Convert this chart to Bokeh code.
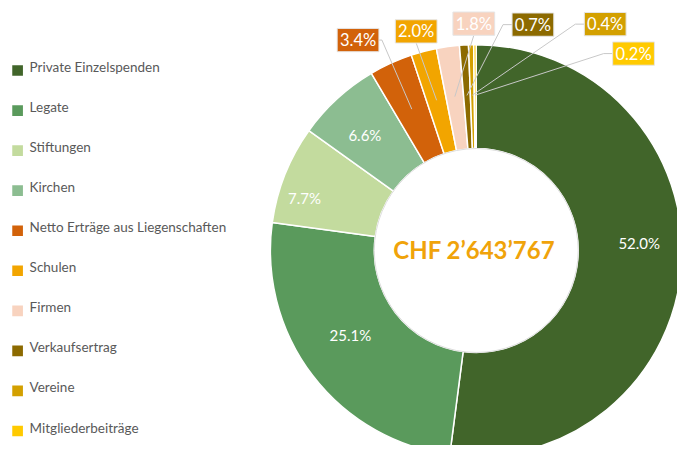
import math
from bokeh.plotting import figure
from bokeh.models import Range1d, ColumnDataSource
from bokeh.core.properties import value
from bokeh.embed import file_html
from bokeh.resources import INLINE

# ---- data ----
categories = ["Private Einzelspenden", "Legate", "Stiftungen", "Kirchen",
              "Netto Erträge aus Liegenschaften", "Schulen", "Firmen",
              "Verkaufsertrag", "Vereine", "Mitgliederbeiträge"]
shares = [52.0, 25.1, 7.7, 6.6, 3.4, 2.0, 1.8, 0.7, 0.4, 0.2]
total_label = "CHF 2’643’767"

# ---- style / layout ----
colors = ["#41652A", "#5A9A5C", "#C3DB9E", "#8CBD91", "#D2620A",
          "#F2A500", "#F8D3BF", "#8C6A00", "#D3A000", "#FFCA00"]
FONT = "Lato"
W, H = 677, 445
SX, SY = W / 693, H / 461       # fit the 693x461 design into the figure
S = (SX + SY) / 2


def X(xr):
    return xr * SX


def Y(yr):
    return H - yr * SY


CX, CY = X(487), Y(259)        # donut centre
R_OUT, R_IN = 212 * S, 105 * S

# inside-label placement: (radius, angular nudge in degrees, clockwise)
inside_layout = {0: (168, -6.3), 1: (156, 3.6), 2: (185, -4.7), 3: (165, -1.5)}
# outside-label layout: box centre (design px from top-left) and leader anchor side
outside_layout = {
    4: (366, 41, "right"),
    5: (425.5, 32, "bottom"),
    6: (484.5, 24, "bottom"),
    7: (545, 25, "left"),
    8: (619, 24.5, "left"),
    9: (648, 55, "left"),
}
BOX_W, BOX_H = 43 * S, 24 * S

p = figure(width=W, height=H, output_backend="svg", toolbar_location=None,
           x_range=Range1d(0, W), y_range=Range1d(0, H), min_border=0)
p.axis.visible = False
p.grid.visible = False
p.outline_line_color = None
p.background_fill_color = "white"

total = sum(shares)
starts, ends, mids = [], [], []
cum = 0.0
for s in shares:
    a0 = math.pi / 2 - cum / total * 2 * math.pi
    cum += s
    a1 = math.pi / 2 - cum / total * 2 * math.pi
    starts.append(a0)
    ends.append(a1)
    mids.append((a0 + a1) / 2)

src = ColumnDataSource(dict(start=starts, end=ends, color=colors))
p.annular_wedge(x=CX, y=CY, inner_radius=R_IN, outer_radius=R_OUT,
                start_angle="start", end_angle="end", direction="clock",
                fill_color="color", line_color="white", line_width=1.5, source=src)
p.circle(x=CX, y=CY, radius=R_IN, fill_color=None, line_color="#DDDDDD", line_width=1)

# inside labels
in_x, in_y, in_t = [], [], []
for i, (r, nudge) in inside_layout.items():
    a = mids[i] - math.radians(nudge)
    in_x.append(CX + r * S * math.cos(a))
    in_y.append(CY + r * S * math.sin(a))
    in_t.append(f"{shares[i]:.1f}%")
p.text(x=in_x, y=in_y, text=in_t, text_color="white", text_font=value(FONT),
       text_font_size="15px", text_align="center", text_baseline="middle")

# outside labels with leader lines
for i, (bx, by, side) in outside_layout.items():
    cx, cy = X(bx), Y(by)
    ex = CX + 160 * S * math.cos(mids[i])
    ey = CY + 160 * S * math.sin(mids[i])
    if side == "right":
        xs = [cx + BOX_W / 2, cx + BOX_W / 2 + 3, ex]
        ys = [cy, cy, ey]
    elif side == "left":
        xs = [cx - BOX_W / 2, cx - BOX_W / 2 - 9, ex]
        ys = [cy, cy, ey]
    else:
        xs = [cx, ex]
        ys = [cy - BOX_H / 2, ey]
    p.line(xs, ys, line_color="#C8C8C8", line_width=1)
    p.rect(x=cx, y=cy, width=BOX_W, height=BOX_H, fill_color=colors[i],
           line_color="#E6E6E6", line_width=1)
    p.text(x=[cx], y=[cy], text=[f"{shares[i]:.1f}%"], text_color="white",
           text_font=value(FONT), text_font_size="16.5px",
           text_align="center", text_baseline="middle")

# centre total
p.text(x=[CX - 2], y=[CY + 1], text=[total_label], text_color="#F0A30A",
       text_font=value(FONT), text_font_size="24px", text_font_style="bold",
       text_align="center", text_baseline="middle")

# legend
LEG_X, LEG_Y0, LEG_DY = 17.5, 72.5, 41.5
for i, (c, col) in enumerate(zip(categories, colors)):
    xc, yc = X(LEG_X), Y(LEG_Y0 + i * LEG_DY)
    p.rect(x=xc, y=yc, width=11 * S, height=11 * S, fill_color=col, line_color=None)
    p.text(x=[xc + 12], y=[yc + 3.5], text=[c], text_color="#595959",
           text_font=value(FONT), text_font_size="13.5px",
           text_align="left", text_baseline="middle")

open("out.html", "w").write(file_html(p, INLINE))
